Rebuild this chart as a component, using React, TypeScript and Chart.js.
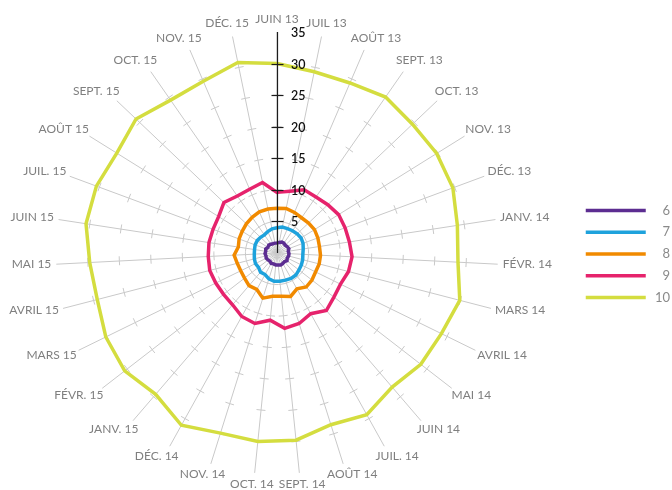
import React, { useEffect, useRef } from "react";
import { Chart, registerables } from "chart.js";

Chart.register(...registerables);

const categories = [
  "JUIN 13", "JUIL 13", "AOÛT 13", "SEPT. 13", "OCT. 13", "NOV. 13", "DÉC. 13",
  "JANV. 14", "FÉVR. 14", "MARS 14", "AVRIL 14", "MAI 14", "JUIN 14", "JUIL. 14",
  "AOÛT 14", "SEPT. 14", "OCT. 14", "NOV. 14", "DÉC. 14", "JANV. 15", "FÉVR. 15",
  "MARS 15", "AVRIL 15", "MAI 15", "JUIN 15", "JUIL. 15", "AOÛT 15", "SEPT. 15",
  "OCT. 15", "NOV. 15", "DÉC. 15",
];

const series6 = [1.6, 1.7, 1.9, 1.9, 1.8, 1.9, 2.0, 1.8, 1.9, 1.9, 1.8, 2.0, 1.8, 1.9, 2.0, 1.9, 1.9, 1.8, 1.9, 1.7, 1.8, 1.9, 1.8, 1.9, 1.8, 1.9, 1.7, 1.8, 1.7, 1.6, 1.6];
const series7 = [4.0, 4.2, 4.2, 4.3, 4.4, 4.5, 4.4, 4.2, 4.1, 4.2, 4.3, 4.4, 4.6, 4.6, 4.5, 4.5, 4.5, 4.3, 3.9, 4.0, 3.7, 3.8, 3.7, 3.6, 3.6, 3.7, 3.7, 3.6, 3.5, 3.7, 3.9];
const series8 = [7.1, 7.2, 7.0, 6.8, 6.9, 7.0, 6.9, 6.8, 6.9, 6.9, 6.8, 7.0, 7.1, 6.5, 7.2, 6.9, 6.9, 7.5, 6.6, 6.8, 6.5, 6.4, 6.5, 6.8, 6.2, 6.4, 6.5, 6.7, 6.9, 7.1, 7.1];
const series9 = [9.6, 10.0, 10.9, 10.8, 11.1, 11.5, 11.5, 11.6, 11.9, 11.7, 11.2, 11.4, 12.0, 11.0, 11.7, 12.0, 10.7, 11.7, 11.5, 10.8, 10.7, 10.8, 11.0, 10.9, 10.9, 10.8, 10.9, 11.6, 11.0, 11.0, 11.4];
const series10 = [30.0, 29.3, 29.3, 30.1, 29.6, 29.8, 29.7, 28.9, 28.7, 29.9, 29.0, 28.8, 28.0, 29.3, 28.5, 29.8, 30.0, 29.9, 31.2, 29.5, 30.5, 30.2, 29.4, 29.7, 30.6, 30.5, 29.9, 30.8, 29.5, 29.6, 30.8];

const seriesLabels = ["6", "7", "8", "9", "10"];
const seriesValues = [series6, series7, series8, series9, series10];
const seriesColors = ["#5c2d91", "#1ea2dc", "#f18a00", "#e6236c", "#d4dd3f"];

const AXIS_MIN = 0;
const AXIS_MAX = 35;
const AXIS_STEP = 5;

// layout constants
const CX = 277;
const CY = 253;
const RADIUS = 221;
const LABEL_PAD = 5;
const TICK_LEN = 9;
const GRID = "#c9c9c9";

const centerAxisPlugin = {
  id: "centerAxis",
  afterDatasetsDraw(chart: any) {
    const s = chart.scales.r;
    const ctx = chart.ctx;
    ctx.save();
    ctx.strokeStyle = "#1c1c1c";
    ctx.lineWidth = 1.2;
    const x = s.xCenter + 0.5;
    const top = s.getDistanceFromCenterForValue(s.max);
    ctx.beginPath();
    ctx.moveTo(x, s.yCenter);
    ctx.lineTo(x, s.yCenter - top);
    ctx.stroke();
    ctx.font = "600 12.5px Lato";
    ctx.fillStyle = "#111111";
    ctx.textAlign = "left";
    ctx.textBaseline = "middle";
    s.ticks.forEach((t: any) => {
      if (t.value <= 0) return;
      const d = s.getDistanceFromCenterForValue(t.value);
      const y = Math.round(s.yCenter - d) + 0.5;
      if (t.value < s.max) {
        ctx.beginPath();
        ctx.moveTo(x - 6, y);
        ctx.lineTo(x + 6, y);
        ctx.stroke();
      }
      ctx.fillText(t.label, s.xCenter + 14, y);
    });
    ctx.restore();
  },
};

export default function App() {
  const ref = useRef<HTMLCanvasElement | null>(null);

  useEffect(() => {
    document.body.style.margin = "0";
    const canvas = ref.current;
    if (!canvas) return;
    const N = categories.length;
    const chart = new Chart(canvas, {
      type: "radar",
      data: {
        labels: categories,
        datasets: seriesLabels.map((lab, i) => ({
          label: lab,
          data: seriesValues[i],
          borderColor: seriesColors[i],
          backgroundColor: seriesColors[i],
          borderWidth: 3.5,
          borderCapStyle: "round",
          borderJoinStyle: "miter",
          pointRadius: 0,
          pointHoverRadius: 0,
          fill: false,
          tension: 0,
        })),
      },
      options: {
        animation: false,
        responsive: true,
        maintainAspectRatio: false,
        layout: { padding: { top: 18, right: 2, left: 0, bottom: 0 } },
        plugins: {
          legend: {
            position: "right",
            maxWidth: 93,
            labels: {
              usePointStyle: true,
              pointStyle: "line",
              pointStyleWidth: 60,
              padding: 8.75,
              textAlign: "right",
              color: "#8a8a8a",
              font: { family: "Lato", size: 13 },
            },
          },
          tooltip: { enabled: false },
        },
        scales: {
          r: {
            min: AXIS_MIN,
            max: AXIS_MAX,
            beginAtZero: true,
            ticks: { stepSize: AXIS_STEP, display: false },
            grid: {
              circular: true,
              lineWidth: 1,
              color: (c: any) => (c.tick && c.tick.value >= AXIS_MAX ? "rgba(0,0,0,0)" : GRID),
            },
            border: {
              dash: (c: any) => {
                const s = c.scale;
                const r = s.getDistanceFromCenterForValue(c.tick ? c.tick.value : 0);
                const p = (2 * Math.PI * r) / N;
                return [TICK_LEN, Math.max(0.1, p - TICK_LEN)];
              },
              dashOffset: (c: any) => {
                const s = c.scale;
                const r = s.getDistanceFromCenterForValue(c.tick ? c.tick.value : 0);
                return TICK_LEN / 2 + (r * Math.PI) / 2;
              },
            },
            angleLines: { color: GRID, lineWidth: 1 },
            pointLabels: {
              color: "#7f7f7f",
              padding: LABEL_PAD,
              font: { family: "Lato", size: 12 },
            },
            afterFit: (scale: any) => {
              const saved = [scale.left, scale.right, scale.top, scale.bottom];
              scale.left = -5000;
              scale.right = 5000;
              scale.top = -5000;
              scale.bottom = 5000;
              scale.xCenter = CX;
              scale.yCenter = CY;
              scale.drawingArea = RADIUS;
              scale.fit();
              scale.left = saved[0];
              scale.right = saved[1];
              scale.top = saved[2];
              scale.bottom = saved[3];
              // smooth label anchoring around the circle
              const items = scale._pointLabelItems || [];
              items.forEach((it: any, i: number) => {
                const w = it.right - it.left;
                const h = it.bottom - it.top;
                const p = scale.getPointPosition(i, scale.drawingArea + LABEL_PAD);
                const a = scale.getIndexAngle(i);
                const xc = p.x + (w / 2) * Math.sin(a);
                const yc = p.y - (h / 2) * Math.cos(a) - 1;
                it.textAlign = "center";
                it.x = xc;
                it.left = xc - w / 2;
                it.right = xc + w / 2;
                it.y = yc - h / 2;
                it.top = yc - h / 2;
                it.bottom = yc + h / 2;
              });
            },
          },
        },
      } as any,
      plugins: [centerAxisPlugin],
    });
    return () => chart.destroy();
  }, []);

  return (
    <div style={{ position: "relative", width: 672, height: 490 }}>
      <canvas ref={ref} />
    </div>
  );
}
